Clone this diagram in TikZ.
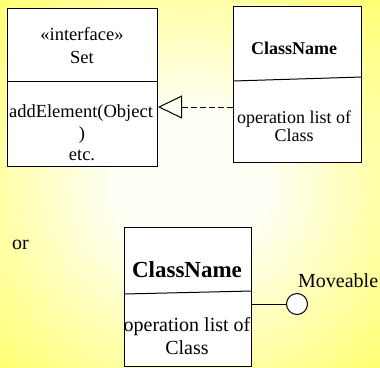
\documentclass[tikz,border=0pt]{standalone}
\usepackage{fontspec}
\setmainfont{Liberation Serif}
\newfontfamily\tnr{Liberation Serif}
\usetikzlibrary{arrows.meta}
\definecolor{bgin}{RGB}{255,255,246}
\definecolor{bgout}{RGB}{255,255,100}
\pgfdeclareradialshading{slidebg}{\pgfpoint{0bp}{0bp}}{%
  color(0bp)=(bgin); color(10bp)=(bgin); color(38bp)=(bgout); color(80bp)=(bgout)}
\tikzset{
  classbox/.style={draw, fill=white, line width=1pt, anchor=north west, inner sep=0pt},
  txt/.style={anchor=base, inner sep=0pt, font=\tnr},
  rule/.style={line width=1pt},
}
\newcommand{\fs}[1]{\fontsize{#1}{#1}\selectfont}
\begin{document}
\begin{tikzpicture}[x=1pt,y=-1pt]
  % slide background
  \shade[shading=slidebg] (0,0) rectangle (380,367);
  \useasboundingbox (0,0) rectangle (380,367);

  % interface box
  \node[classbox, minimum width=150pt, minimum height=158pt] (set) at (7,8) {};
  \draw[rule] (set.west |- 0,81) -- (set.east |- 0,81);
  \node[txt] (st) at (82,40) {\fs{18.5}«interface»};
  \node[txt] (sn) at (82,63) {\fs{18.5}Set};
  \node[txt] (s1) at (81,117) {\fs{18.5}addElement(Object};
  \node[txt] (s2) at (82,139) {\fs{18.5})};
  \node[txt] (s3) at (82,160) {\fs{18.5}etc.};

  % implementing class
  \node[classbox, minimum width=128pt, minimum height=156pt] (cls) at (233,6) {};
  \draw[rule] (cls.west |- 0,81) -- (cls.east |- 0,77);
  \node[txt] (cn) at (294,54) {\fs{18}\bfseries ClassName};
  \node[txt] (c1) at (294,123) {\fs{18}operation list of};
  \node[txt] (c2) at (294,141) {\fs{18}Class};

  % realization arrow
  \draw[line width=1pt, dash pattern=on 6pt off 3pt,
        -{Triangle[open, length=24pt, width=23pt, line width=1pt]}]
    (cls.west |- 0,107) -- (set.east |- 0,107);

  % alternative notation
  \node[txt, anchor=base west] (or) at (12,249) {\fs{20}or};

  \node[classbox, minimum width=127pt, minimum height=139pt] (cls2) at (124,227) {};
  \draw[rule] (cls2.west |- 0,294) -- (cls2.east |- 0,291);
  \node[txt] (dn) at (187,277) {\fs{23}\bfseries ClassName};
  \node[txt] (d1) at (187,331) {\fs{20}operation list of};
  \node[txt] (d2) at (187,354) {\fs{20}Class};

  % lollipop interface
  \node[circle, draw, fill=white, line width=1pt, minimum size=21pt, inner sep=0pt] (mv) at (297,304) {};
  \draw[rule] (cls2.east |- mv) -- (mv.west);
  \node[txt, anchor=base west] (mvl) at (298,287) {\fs{20}Moveable};
\end{tikzpicture}
\end{document}
